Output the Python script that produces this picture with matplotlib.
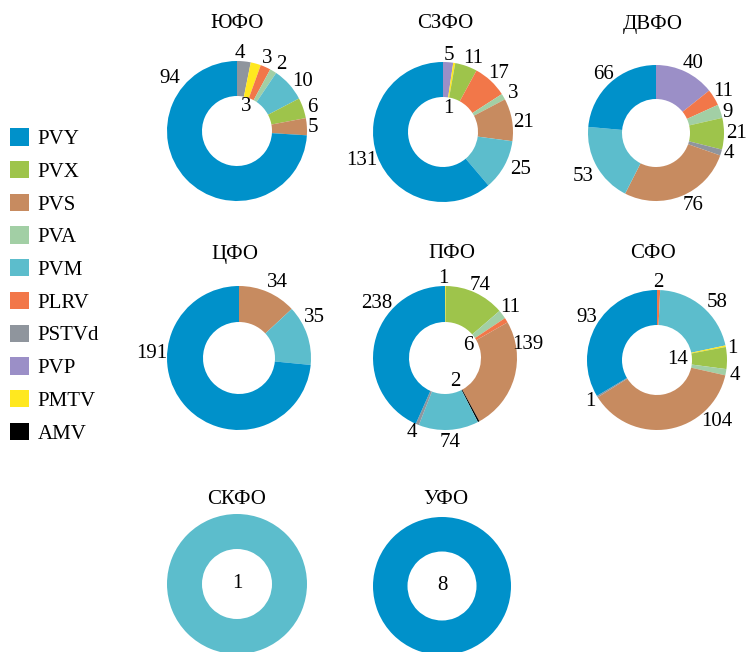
import matplotlib
matplotlib.use("Agg")
import matplotlib.pyplot as plt
from matplotlib.patches import Patch
import numpy as np

plt.rcParams['font.family'] = ['Liberation Serif', 'DejaVu Serif']

# ---- data ----
viruses = ['PVY', 'PVX', 'PVS', 'PVA', 'PVM', 'PLRV', 'PSTVd', 'PVP', 'PMTV', 'AMV']
virus_colors = ['#0091CA', '#9EC44B', '#C78B60', '#A2CFA5', '#5CBDCC',
                '#F27749', '#8F959D', '#9B8FC7', '#FFE81F', '#000000']

regions = ['ЮФО', 'СЗФО', 'ДВФО', 'ЦФО', 'ПФО', 'СФО', 'СКФО', 'УФО']

yufo_viruses = ['PSTVd', 'PMTV', 'PLRV', 'PVA', 'PVM', 'PVX', 'PVS', 'PVY']
yufo_counts = [4, 3, 3, 2, 10, 6, 5, 94]

szfo_viruses = ['PVP', 'PMTV', 'PVX', 'PLRV', 'PVA', 'PVS', 'PVM', 'PVY']
szfo_counts = [5, 1, 11, 17, 3, 21, 25, 131]

dvfo_viruses = ['PVP', 'PLRV', 'PVA', 'PVX', 'PSTVd', 'PVS', 'PVM', 'PVY']
dvfo_counts = [40, 11, 9, 21, 4, 76, 53, 66]

cfo_viruses = ['PVS', 'PVM', 'PVY']
cfo_counts = [34, 35, 191]

pfo_viruses = ['PMTV', 'PVX', 'PVA', 'PLRV', 'PVS', 'AMV', 'PVM', 'PSTVd', 'PVY']
pfo_counts = [1, 74, 11, 6, 139, 2, 74, 4, 238]

sfo_viruses = ['PLRV', 'PVM', 'PMTV', 'PVX', 'PVA', 'PVS', 'PSTVd', 'PVY']
sfo_counts = [2, 58, 1, 14, 4, 104, 1, 93]

skfo_viruses = ['PVM']
skfo_counts = [1]

ufo_viruses = ['PVY']
ufo_counts = [8]

region_data = [
    (yufo_viruses, yufo_counts), (szfo_viruses, szfo_counts),
    (dvfo_viruses, dvfo_counts), (cfo_viruses, cfo_counts),
    (pfo_viruses, pfo_counts), (sfo_viruses, sfo_counts),
    (skfo_viruses, skfo_counts), (ufo_viruses, ufo_counts),
]

# ---- layout (pixels) ----
W, H = 747, 652
donut_geom = [(237, 131, 70), (443, 132, 70), (656, 133, 68),
              (239, 358, 72), (445, 358, 72), (657, 360, 70),
              (237, 584, 70), (442, 586, 69)]
title_pos = [(237, 23), (445, 23), (653, 24), (235, 254), (452, 254),
             (653, 254), (237, 499), (446, 499)]
# label placement: (angle clockwise from top in degrees, radius as fraction of outer radius)
label_polar = [
    [(2, 1.11), (20, 0.37), (23, 1.12), (34, 1.14), (53, 1.17), (73, 1.13), (87, 1.09), (308, 1.22)],
    [(4.5, 1.1), (12, 0.35), (22, 1.14), (43.5, 1.16), (61, 1.14), (83, 1.16), (116, 1.23), (251, 1.23)],
    [(28, 1.16), (58.5, 1.16), (74, 1.1), (90, 1.19), (106, 1.12), (153, 1.19), (239, 1.25), (318, 1.16)],
    [(26.6, 1.18), (62, 1.19), (273, 1.21)],
    [(358.5, 1.1), (25.6, 1.12), (52, 1.15), (62, 0.36), (81, 1.17), (157, 0.36), (176.6, 1.17), (204, 1.14), (308.6, 1.22)],
    [(0.7, 1.11), (46.5, 1.19), (81, 1.09), (90, 0.29), (101, 1.13), (136, 1.23), (238, 1.13), (301.6, 1.17)],
    [(0, 0)],
    [(0, 0)],
]

FS = 15
cmap = dict(zip(viruses, virus_colors))

fig = plt.figure(figsize=(W / 100, H / 100), dpi=100)

for name, (vir, cnt), (cx, cy, r), (tx, ty), lp in zip(
        regions, region_data, donut_geom, title_pos, label_polar):
    ax = fig.add_axes([(cx - r) / W, 1 - (cy + r) / H, 2 * r / W, 2 * r / H])
    ax.pie(cnt, colors=[cmap[v] for v in vir], startangle=90, counterclock=False,
           radius=1, wedgeprops=dict(width=0.5, linewidth=0))
    ax.set_xlim(-1, 1)
    ax.set_ylim(-1, 1)
    ax.set_aspect('equal')
    ax.axis('off')
    for c, (ang, rf) in zip(cnt, lp):
        a = np.deg2rad(ang)
        ax.text(rf * np.sin(a), rf * np.cos(a), str(c), ha='center', va='center',
                fontsize=FS, clip_on=False)
    fig.text(tx / W, 1 - ty / H, name, ha='center', va='center', fontsize=FS)

handles = [Patch(facecolor=c, edgecolor='none', label=v) for v, c in zip(viruses, virus_colors)]
fig.legend(handles=handles, loc='upper left', bbox_to_anchor=(2 / W, 1 - 120 / H),
           frameon=False, fontsize=FS, handlelength=0.9, handleheight=0.9,
           handletextpad=0.4, labelspacing=0.57, borderaxespad=0)

fig.savefig('out.png', dpi=100)
